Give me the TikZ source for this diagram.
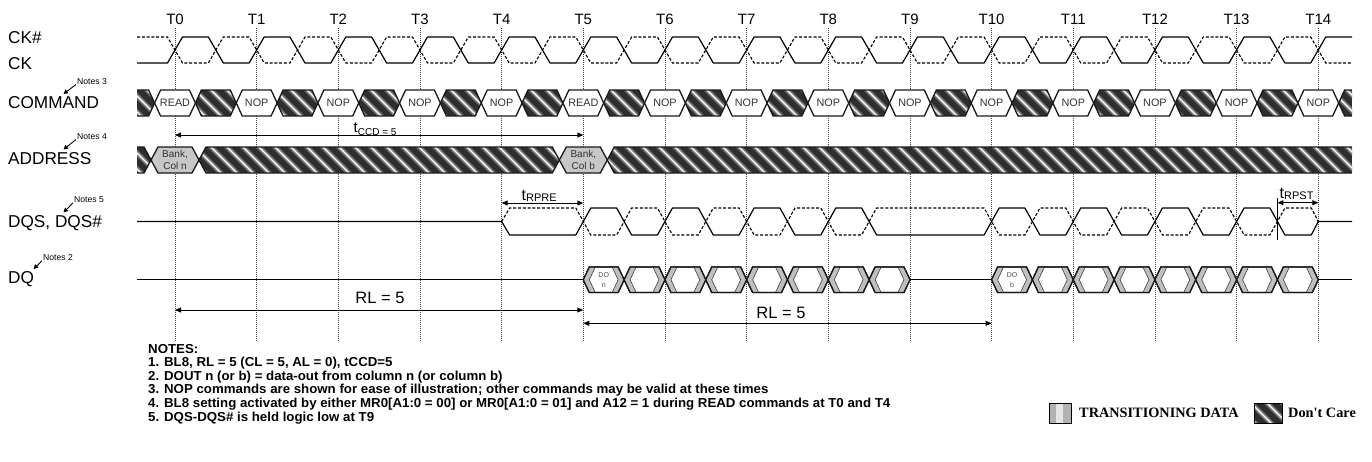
\documentclass[tikz,border=0pt]{standalone}
\usepackage{fontspec}
\setmainfont{Liberation Sans}
\newfontfamily\notesfont[FakeStretch=1.02]{Liberation Sans}
\newfontfamily\legendfont{Liberation Serif}
\usetikzlibrary{arrows.meta}

\newcommand\fsz[1]{\fontsize{#1}{#1}\selectfont}

% diagonal stripes of the don't-care fill
\newcommand\dcstripes[4]{%
  \pgfmathsetmacro\stH{#4-#3}%
  \pgfmathtruncatemacro\stNa{floor((#1-\stH)/16)-1}%
  \pgfmathtruncatemacro\stNb{ceil((#2)/16)+1}%
  \foreach \n in {\stNa,...,\stNb}{%
    \draw[line width=5pt, black!58] ({16*\n},{#3-3}) -- ({16*\n+\stH+6},{#4+3});
    \draw[line width=2.4pt, black!30] ({16*\n},{#3-3}) -- ({16*\n+\stH+6},{#4+3});
    \draw[line width=0.9pt, white] ({16*\n},{#3-3}) -- ({16*\n+\stH+6},{#4+3});
  }%
}
% hatched hexagon between two crossings
\newcommand\dchex[5]{%
  \pgfmathsetmacro\hA{#1}\pgfmathsetmacro\hB{#2}\pgfmathsetmacro\hM{(#3+#4)/2}%
  \pgfmathsetmacro\hAs{\hA+#5}\pgfmathsetmacro\hBs{\hB-#5}%
  \begin{scope}
    \clip (\hA,\hM) -- (\hAs,#3) -- (\hBs,#3) -- (\hB,\hM) -- (\hBs,#4) -- (\hAs,#4) -- cycle;
    \fill[dcbg] (\hA,#3) rectangle (\hB,#4);
    \dcstripes{\hA}{\hB}{#3}{#4}
  \end{scope}
  \draw[busline] (\hA,\hM) -- (\hAs,#3) -- (\hBs,#3) -- (\hB,\hM) -- (\hBs,#4) -- (\hAs,#4) -- cycle;
}
% hatched piece open on the left
\newcommand\dcleft[5]{%
  \pgfmathsetmacro\hB{#2}\pgfmathsetmacro\hM{(#3+#4)/2}\pgfmathsetmacro\hBs{\hB-#5}%
  \begin{scope}
    \clip (#1,#3) -- (\hBs,#3) -- (\hB,\hM) -- (\hBs,#4) -- (#1,#4) -- cycle;
    \fill[dcbg] (#1,#3) rectangle (\hB,#4);
    \dcstripes{#1}{\hB}{#3}{#4}
  \end{scope}
  \draw[busline] (#1,#3) -- (\hBs,#3) -- (\hB,\hM) -- (\hBs,#4) -- (#1,#4);
}
% hatched piece open on the right
\newcommand\dcright[5]{%
  \pgfmathsetmacro\hA{#1}\pgfmathsetmacro\hM{(#3+#4)/2}\pgfmathsetmacro\hAs{\hA+#5}%
  \begin{scope}
    \clip (\hA,\hM) -- (\hAs,#3) -- (#2,#3) -- (#2,#4) -- (\hAs,#4) -- cycle;
    \fill[dcbg] (\hA,#3) rectangle (#2,#4);
    \dcstripes{\hA}{#2}{#3}{#4}
  \end{scope}
  \draw[busline] (#2,#3) -- (\hAs,#3) -- (\hA,\hM) -- (\hAs,#4) -- (#2,#4);
}
% valid cell
\newcommand\cellhex[8]{%
  \pgfmathsetmacro\cA{#1}\pgfmathsetmacro\cB{#2}\pgfmathsetmacro\cM{(#3+#4)/2}%
  \pgfmathsetmacro\cAs{\cA+#5}\pgfmathsetmacro\cBs{\cB-#5}\pgfmathsetmacro\cC{(\cA+\cB)/2}%
  \draw[busline, fill=#6] (\cA,\cM) -- (\cAs,#3) -- (\cBs,#3) -- (\cB,\cM) -- (\cBs,#4) -- (\cAs,#4) -- cycle;
  \node[celltext] (#8) at (\cC,\cM) {#7};
}
% one DQ data beat
\newcommand\dqbeat[3]{%
  \pgfmathsetmacro\qa{#1}\pgfmathsetmacro\qb{#2}\pgfmathsetmacro\qc{(\qa+\qb)/2}%
  \draw[busline, fill=white] (\qa,279.75) -- ({\qa+6},267) -- ({\qb-6},267) -- (\qb,279.75) -- ({\qb-6},292.5) -- ({\qa+6},292.5) -- cycle;
  \draw[line width=0.6pt, black!75, fill=black!25] (\qa,279.75) -- ({\qa+6},267) -- ({\qa+12},267) -- ({\qa+6},279.75) -- ({\qa+12},292.5) -- ({\qa+6},292.5) -- cycle;
  \draw[line width=0.6pt, black!75, fill=black!25] (\qb,279.75) -- ({\qb-6},267) -- ({\qb-12},267) -- ({\qb-6},279.75) -- ({\qb-12},292.5) -- ({\qb-6},292.5) -- cycle;
  \draw[busline] (\qa,279.75) -- ({\qa+6},267) -- ({\qb-6},267) -- (\qb,279.75) -- ({\qb-6},292.5) -- ({\qa+6},292.5) -- cycle;
  \node[dotext] (#3) at (\qc,280) {};
}

\begin{document}
\begin{tikzpicture}[x=1pt, y=-1pt,
  declare function={T(\k)=175+81.66*\k;},
  wave/.style={line width=1.2pt, black, line join=round},
  wavedash/.style={line width=1.1pt, black, dash pattern=on 3pt off 1.8pt},
  busline/.style={line width=1.3pt, black!90, line join=miter},
  tick/.style={line width=0.75pt, black!75, dash pattern=on 1pt off 1pt},
  dcbg/.style={fill=black!82},
  celltext/.style={font=\fsz{10.8}, text=black!80, inner sep=0, align=center},
  dotext/.style={inner sep=0},
  tlabel/.style={anchor=base, font=\fsz{15}, inner sep=0},
  siglabel/.style={anchor=base west, font=\fsz{17.2}, inner sep=0},
  noteslabel/.style={anchor=base west, font=\fsz{8.6}, inner sep=0},
  notearrow/.style={line width=0.9pt, -{Triangle[length=4.5pt,width=4.5pt]}},
  dim/.style={line width=0.9pt, {Triangle[length=6pt,width=5pt]}-{Triangle[length=6pt,width=5pt]}},
  notetext/.style={anchor=base west, inner sep=0, font=\notesfont\bfseries\fontsize{13}{13.6}\selectfont},
  legendtext/.style={anchor=base west, inner sep=0, font=\legendfont\bfseries\fsz{14.3}}
]
\useasboundingbox (0,0) rectangle (1372,461);

% clock labels and tick lines
\foreach \k in {0,...,14}{
  \node[tlabel] (T\k) at ({T(\k)},24) {T\k};
  \draw[tick] ({T(\k)},28) -- ({T(\k)},341);
}

% signal names
\node[siglabel] (lckn) at (8,43.5) {CK\#};
\node[siglabel] (lck) at (8,69.5) {CK};
\node[siglabel] (lcmd) at (8,108.5) {COMMAND};
\node[siglabel] (laddr) at (8,164) {ADDRESS};
\node[siglabel] (ldqs) at (8,227.5) {DQS, DQS\#};
\node[siglabel] (ldq) at (8,283.5) {DQ};

% note markers
\node[noteslabel] (n3) at (77,84.5) {Notes 3};
\coordinate (n3tip) at (63.5,94);
\draw[notearrow] (76,84.5) -- (n3tip);
\node[noteslabel] (n4) at (77,139.5) {Notes 4};
\coordinate (n4tip) at (63.5,149.5);
\draw[notearrow] (76,139.5) -- (n4tip);
\node[noteslabel] (n5) at (74,202.3) {Notes 5};
\coordinate (n5tip) at (63.5,212.5);
\draw[notearrow] (73,202.8) -- (n5tip);
\node[noteslabel] (n2) at (43,260.3) {Notes 2};
\coordinate (n2tip) at (33.5,269);
\draw[notearrow] (42,260.8) -- (n2tip);

% CK and CK#
\draw[wave] (137,63) foreach \k in {0,...,13}{ -- ({T(\k)-7.5},63) -- ({T(\k)+7.5},37) -- ({T(\k+0.5)-7.5},37) -- ({T(\k+0.5)+7.5},63) } -- ({T(14)-7.5},63) -- ({T(14)+7.5},37) -- (1352,37);
\draw[wavedash] (137,37) foreach \k in {0,...,13}{ -- ({T(\k)-7.5},37) -- ({T(\k)+7.5},63) -- ({T(\k+0.5)-7.5},63) -- ({T(\k+0.5)+7.5},37) } -- ({T(14)-7.5},37) -- ({T(14)+7.5},63) -- (1352,63);

% COMMAND
\dcleft{137}{T(0)-20.41}{90}{116}{6}
\foreach \k in {0,...,13}{\dchex{T(\k)+20.41}{T(\k+1)-20.41}{90}{116}{6}}
\dcright{T(14)+20.41}{1352}{90}{116}{6}
\foreach \k/\lab in {0/READ,1/NOP,2/NOP,3/NOP,4/NOP,5/READ,6/NOP,7/NOP,8/NOP,9/NOP,10/NOP,11/NOP,12/NOP,13/NOP,14/NOP}{
  \cellhex{T(\k)-20.41}{T(\k)+20.41}{90}{116}{6}{white}{\lab}{cmd\k}
}

% ADDRESS
\dcleft{137}{T(0)-24}{147}{173}{7}
\dchex{T(0)+24}{T(5)-24}{147}{173}{7}
\dcright{T(5)+24}{1352}{147}{173}{7}
\begin{scope}[celltext/.style={font=\fontsize{10}{12.5}\selectfont, text=black!80, inner sep=0, align=center}]
\cellhex{T(0)-24}{T(0)+24}{147}{173}{7}{black!22}{Bank,\\Col n}{addr0}
\cellhex{T(5)-24}{T(5)+24}{147}{173}{7}{black!22}{Bank,\\Col b}{addr5}
\end{scope}

% tCCD
\coordinate (ccdA) at ({T(0)},135);
\coordinate (ccdB) at ({T(5)},135);
\draw[dim] (ccdA) -- (ccdB);
\node[anchor=base west, inner sep=0] (tccd) at (353.5,132.7) {\fsz{15}t\raisebox{-2.5pt}{\fsz{10}CCD = 5}};

% DQS, DQS#
\draw[wave] (137,221.5) -- ({T(4)},221.5) -- ({T(4)+8},235)
  foreach \k in {5,6,7,8}{ -- ({T(\k)-7.5},235) -- ({T(\k)+7.5},208) -- ({T(\k+0.5)-7.5},208) -- ({T(\k+0.5)+7.5},235) }
  foreach \k in {10,11,12,13}{ -- ({T(\k)-7.5},235) -- ({T(\k)+7.5},208) -- ({T(\k+0.5)-7.5},208) -- ({T(\k+0.5)+7.5},235) }
  -- ({T(14)-7},235) -- ({T(14)},221.5) -- (1352,221.5);
\draw[wavedash] ({T(4)},221.5) -- ({T(4)+8},208)
  foreach \k in {5,6,7,8}{ -- ({T(\k)-7.5},208) -- ({T(\k)+7.5},235) -- ({T(\k+0.5)-7.5},235) -- ({T(\k+0.5)+7.5},208) }
  foreach \k in {10,11,12,13}{ -- ({T(\k)-7.5},208) -- ({T(\k)+7.5},235) -- ({T(\k+0.5)-7.5},235) -- ({T(\k+0.5)+7.5},208) }
  -- ({T(14)-7},208) -- ({T(14)},221.5);

% tRPRE
\coordinate (rpreA) at ({T(4)},203);
\coordinate (rpreB) at ({T(5)},203);
\draw[dim] (rpreA) -- (rpreB);
\node[anchor=base west, inner sep=0] (trpre) at (521.5,200) {\fsz{16}t\raisebox{-1pt}{\fsz{11}RPRE}};

% tRPST
\coordinate (rpstA) at ({T(13.5)},202.7);
\coordinate (rpstB) at ({T(14)},202.7);
\coordinate (rpstTop) at ({T(13.5)},198);
\coordinate (rpstBot) at ({T(13.5)},240);
\draw[line width=0.9pt] (rpstTop) -- (rpstBot);
\draw[dim] (rpstA) -- (rpstB);
\node[anchor=base west, inner sep=0] (trpst) at (1279.5,198.5) {\fsz{16}t\raisebox{-1pt}{\fsz{11}RPST}};

% DQ
\draw[wave] (137,279.75) -- ({T(5)},279.75);
\draw[wave] ({T(9)},279.75) -- ({T(10)},279.75);
\draw[wave] ({T(14)},279.75) -- (1352,279.75);
\foreach \i in {0,...,7}{\dqbeat{T(5+\i/2)}{T(5.5+\i/2)}{dqa\i}}
\foreach \i in {0,...,7}{\dqbeat{T(10+\i/2)}{T(10.5+\i/2)}{dqb\i}}
\node[font=\fontsize{7}{10.5}\selectfont, text=black!70, align=center, inner sep=0] (don) at ({T(5.25)},280) {DO\\n};
\node[font=\fontsize{7}{10.5}\selectfont, text=black!70, align=center, inner sep=0] (dob) at ({T(10.25)},280) {DO\\b};

% RL arrows
\coordinate (rl1A) at ({T(0)},310);
\coordinate (rl1B) at ({T(5)},310);
\draw[dim] (rl1A) -- (rl1B);
\node[anchor=base, inner sep=0, font=\fsz{16.5}] (rl1) at (380,303.3) {RL = 5};
\coordinate (rl2A) at ({T(5)},323.3);
\coordinate (rl2B) at ({T(10)},323.3);
\draw[dim] (rl2A) -- (rl2B);
\node[anchor=base, inner sep=0, font=\fsz{16.5}] (rl2) at (781,318.3) {RL = 5};

% notes
\node[notetext] (note0) at (148,353.5) {NOTES:};
\node[notetext] (note1) at (148,366.8) {1. BL8, RL = 5 (CL = 5, AL = 0), tCCD=5};
\node[notetext] (note2) at (148,380.3) {2. DOUT n (or b) = data-out from column n (or column b)};
\node[notetext] (note3) at (148,393.8) {3. NOP commands are shown for ease of illustration; other commands may be valid at these times};
\node[notetext] (note4) at (148,407.5) {4. BL8 setting activated by either MR0[A1:0 = 00] or MR0[A1:0 = 01] and A12 = 1 during READ commands at T0 and T4};
\node[notetext] (note5) at (148,421.3) {5. DQS-DQS\# is held logic low at T9};

% legend
\fill[black!30] (1049,403) rectangle (1071,423);
\fill[black!10] (1056,403) rectangle (1063,423);
\draw[line width=0.8pt] (1049,403) rectangle (1071,423);
\node[legendtext] (legtr) at (1079,417.3) {TRANSITIONING DATA};
\begin{scope}
  \clip (1254,403) rectangle (1282,423);
  \fill[dcbg] (1254,403) rectangle (1282,423);
  \dcstripes{1254}{1282}{403}{423}
\end{scope}
\draw[line width=0.8pt] (1254,403) rectangle (1282,423);
\node[legendtext] (legdc) at (1288,417.3) {Don't Care};
\end{tikzpicture}
\end{document}
